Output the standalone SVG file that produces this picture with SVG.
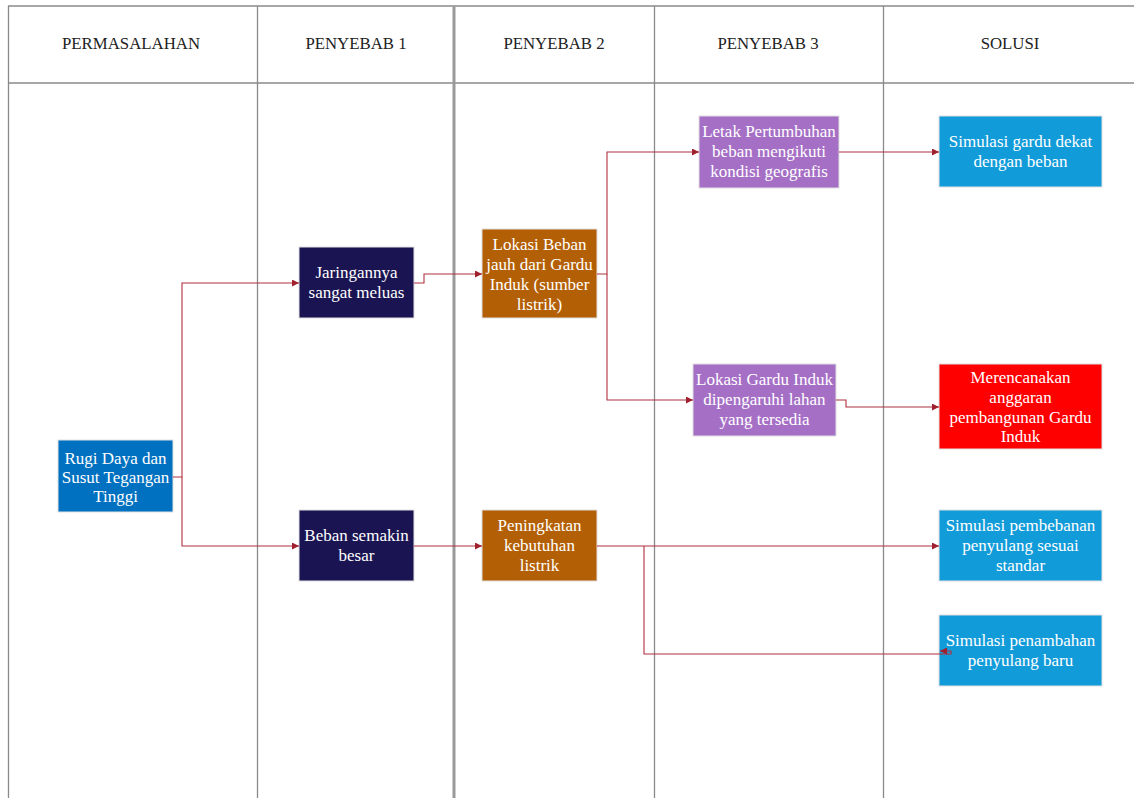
<svg xmlns="http://www.w3.org/2000/svg" width="1134" height="798" viewBox="0 0 1134 798">
<style>
.grid{stroke:#8a8a8a;stroke-width:1.3;fill:none}
.hd{font-family:"Liberation Serif","Times New Roman","DejaVu Serif",serif;font-size:16.8px;fill:#222;text-anchor:middle}
.nd rect{stroke:#e0e0e0;stroke-width:1}
.nd text{font-family:"Liberation Serif","Times New Roman","DejaVu Serif",serif;font-size:17px;fill:#fff;text-anchor:middle}
.cn{stroke:#b0303f;stroke-width:1.1;fill:none}
</style>
<defs>
<marker id="ah" viewBox="0 0 10 10" refX="10" refY="5" markerWidth="7" markerHeight="7" markerUnits="userSpaceOnUse" orient="auto">
<path d="M0,0 L10,5 L0,10 z" fill="#a02030"/>
</marker>
</defs>
<rect x="0" y="0" width="1134" height="798" fill="#fff"/>
<g id="grid">
<line class="grid" x1="8" y1="6" x2="1134" y2="6"/>
<line class="grid" x1="8" y1="83" x2="1134" y2="83"/>
<line class="grid" x1="8.5" y1="6" x2="8.5" y2="798"/>
<line class="grid" x1="257.5" y1="6" x2="257.5" y2="798"/>
<line class="grid" x1="454" y1="6" x2="454" y2="798" style="stroke-width:3;stroke:#9a9a9a"/>
<line class="grid" x1="654.5" y1="6" x2="654.5" y2="798"/>
<line class="grid" x1="883.5" y1="6" x2="883.5" y2="798"/>
<text class="hd" x="131" y="49">PERMASALAHAN</text>
<text class="hd" x="356" y="49">PENYEBAB 1</text>
<text class="hd" x="554" y="49">PENYEBAB 2</text>
<text class="hd" x="768" y="49">PENYEBAB 3</text>
<text class="hd" x="1010" y="49">SOLUSI</text>
</g>
<g id="n1" class="nd"><rect x="58" y="440" width="115" height="72" fill="#0070C0"/>
<text x="115.5" y="464">Rugi Daya dan</text><text x="115.5" y="483">Susut Tegangan</text><text x="115.5" y="502">Tinggi</text></g>
<g id="n2" class="nd"><rect x="299" y="247" width="115" height="71" fill="#1A1552"/>
<text x="356.5" y="278">Jaringannya</text><text x="356.5" y="298">sangat meluas</text></g>
<g id="n3" class="nd"><rect x="299" y="510" width="115" height="71" fill="#1A1552"/>
<text x="356.5" y="541">Beban semakin</text><text x="356.5" y="561">besar</text></g>
<g id="n4" class="nd"><rect x="482" y="229" width="115" height="89" fill="#B35F05"/>
<text x="539.5" y="250">Lokasi Beban</text><text x="539.5" y="270">jauh dari Gardu</text><text x="539.5" y="290">Induk (sumber</text><text x="539.5" y="310">listrik)</text></g>
<g id="n5" class="nd"><rect x="482" y="510" width="115" height="71" fill="#B35F05"/>
<text x="539.5" y="531">Peningkatan</text><text x="539.5" y="551">kebutuhan</text><text x="539.5" y="571">listrik</text></g>
<g id="n6" class="nd"><rect x="699" y="116" width="140" height="72" fill="#A56FC6"/>
<text x="769" y="137">Letak Pertumbuhan</text><text x="769" y="157">beban mengikuti</text><text x="769" y="177">kondisi geografis</text></g>
<g id="n7" class="nd"><rect x="693" y="364" width="143" height="72" fill="#A56FC6"/>
<text x="764.5" y="385">Lokasi Gardu Induk</text><text x="764.5" y="405">dipengaruhi lahan</text><text x="764.5" y="425">yang tersedia</text></g>
<g id="n8" class="nd"><rect x="939" y="116" width="163" height="71" fill="#129BD9"/>
<text x="1020.5" y="147">Simulasi gardu dekat</text><text x="1020.5" y="167">dengan beban</text></g>
<g id="n9" class="nd"><rect x="939" y="364" width="163" height="85" fill="#FF0000"/>
<text x="1020.5" y="383">Merencanakan</text><text x="1020.5" y="403">anggaran</text><text x="1020.5" y="423">pembangunan Gardu</text><text x="1020.5" y="442">Induk</text></g>
<g id="n10" class="nd"><rect x="939" y="510" width="163" height="71" fill="#129BD9"/>
<text x="1020.5" y="531">Simulasi pembebanan</text><text x="1020.5" y="551">penyulang sesuai</text><text x="1020.5" y="571">standar</text></g>
<g id="n11" class="nd"><rect x="939" y="615" width="163" height="71" fill="#129BD9"/>
<text x="1020.5" y="646">Simulasi penambahan</text><text x="1020.5" y="666">penyulang baru</text></g>
<g id="connectors">
<path class="cn" d="M173,477 H182 V283 H299" marker-end="url(#ah)"/>
<path class="cn" d="M182,477 V546 H299" marker-end="url(#ah)"/>
<path class="cn" d="M414,283 H424 V274 H482" marker-end="url(#ah)"/>
<path class="cn" d="M597,274 H607 V152 H699" marker-end="url(#ah)"/>
<path class="cn" d="M607,274 V400 H693" marker-end="url(#ah)"/>
<path class="cn" d="M839,152 H939" marker-end="url(#ah)"/>
<path class="cn" d="M836,400 H846 V407 H939" marker-end="url(#ah)"/>
<path class="cn" d="M414,546 H482" marker-end="url(#ah)"/>
<path class="cn" d="M597,546 H939" marker-end="url(#ah)"/>
<path class="cn" d="M644,546 V654 H951 V651 H940" marker-end="url(#ah)"/>
</g>
</svg>
